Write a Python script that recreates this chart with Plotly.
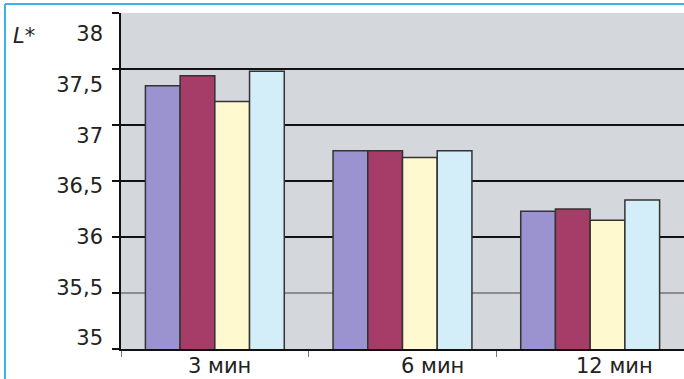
import plotly.graph_objects as go

# Brightness L* after different processing times
categories = ["3 мин", "6 мин", "12 мин"]
series_a = [37.35, 36.77, 36.23]
series_b = [37.44, 36.77, 36.25]
series_c = [37.21, 36.71, 36.15]
series_d = [37.48, 36.77, 36.33]
y_ticks = [35, 35.5, 36, 36.5, 37, 37.5, 38]
y_tick_text = ["35", "35,5", "36", "36,5", "37", "37,5", "38"]

colors = ["#9b93cf", "#a63d68", "#fff9cf", "#d4eef9"]
series = [series_a, series_b, series_c, series_d]

W, H = 684, 379
L_M, R_M, T_M, B_M = 121, 0, 13, 30
FONT = "DejaVu Sans"

pw = W - L_M - R_M
ph = H - T_M - B_M
def px_x(p):
    return (p - L_M) / pw
def px_y(p):
    return 1 - (p - T_M) / ph

# Tick labels sit on a slightly compressed scale: 38 at 34 px, 35 at 338 px
lab_top_px, lab_bot_px = 34, 338
units_per_px = (y_ticks[-1] - y_ticks[0]) / (lab_bot_px - lab_top_px)
lab_lo = y_ticks[0] - (H - B_M - lab_bot_px) * units_per_px
lab_hi = lab_lo + ph * units_per_px

fig = go.Figure()
for vals, col in zip(series, colors):
    fig.add_trace(go.Bar(
        x=categories, y=vals,
        marker=dict(color=col, line=dict(color="#333333", width=1.5)),
        showlegend=False,
    ))

# Overlaid axes: one for the lighter 35,5 grid line, one for the tick labels
fig.add_trace(go.Scatter(x=categories, y=[None] * 3, yaxis="y2", showlegend=False))
fig.add_trace(go.Scatter(x=categories, y=[None] * 3, yaxis="y3", showlegend=False))

fig.update_layout(
    width=W, height=H,
    margin=dict(l=L_M, r=R_M, t=T_M, b=B_M),
    paper_bgcolor="white",
    plot_bgcolor="#d4d7db",
    barmode="group",
    bargap=0.26,
    bargroupgap=0,
    font=dict(family=FONT, size=21, color="#222"),
    xaxis=dict(
        type="category",
        showticklabels=False,
        ticks="outside", tickson="boundaries", ticklen=6, tickcolor="#777",
        showline=True, linecolor="#111", linewidth=2,
        showgrid=False,
    ),
    yaxis=dict(
        range=[35, 38],
        tickvals=y_ticks, showticklabels=False,
        ticks="outside", ticklen=7, tickcolor="#111", tickwidth=1.5,
        showline=True, linecolor="#111", linewidth=2,
        showgrid=True, gridcolor="#111", gridwidth=1.6,
        zeroline=False,
    ),
    yaxis2=dict(
        range=[35, 38], overlaying="y",
        tickvals=[35.5], showticklabels=False,
        showgrid=True, gridcolor="#8d8d8d", gridwidth=1.6,
        zeroline=False, layer="below traces",
    ),
    yaxis3=dict(
        range=[lab_lo, lab_hi], overlaying="y", side="left",
        tickvals=y_ticks, ticktext=y_tick_text,
        ticks="", ticklabelstandoff=17,
        showline=False, showgrid=False, zeroline=False,
        tickfont=dict(family=FONT, size=21, color="#222"),
    ),
)

# Category labels beneath the axis
label_shift = [5, 30, 24]
for cat, dx in zip(categories, label_shift):
    fig.add_annotation(
        x=cat, y=px_y(366), xref="x", yref="paper", xanchor="center", yanchor="middle",
        xshift=dx, text=cat, showarrow=False, font=dict(family=FONT, size=21, color="#222"),
    )

# Axis title L*
fig.add_annotation(
    x=px_x(24), y=px_y(36), xref="paper", yref="paper", xanchor="center", yanchor="middle",
    text="<i>L*</i>", showarrow=False, font=dict(family=FONT, size=21, color="#222"),
)

# Light-blue frame along the left and top edges
frame = "#3cb4e6"
fig.add_shape(type="line", xref="paper", yref="paper",
              x0=px_x(5), x1=px_x(5), y0=px_y(4), y1=px_y(H + 5),
              line=dict(color=frame, width=2))
fig.add_shape(type="line", xref="paper", yref="paper",
              x0=px_x(5), x1=px_x(W + 5), y0=px_y(4), y1=px_y(4),
              line=dict(color=frame, width=2))

fig.write_html("out.html")
